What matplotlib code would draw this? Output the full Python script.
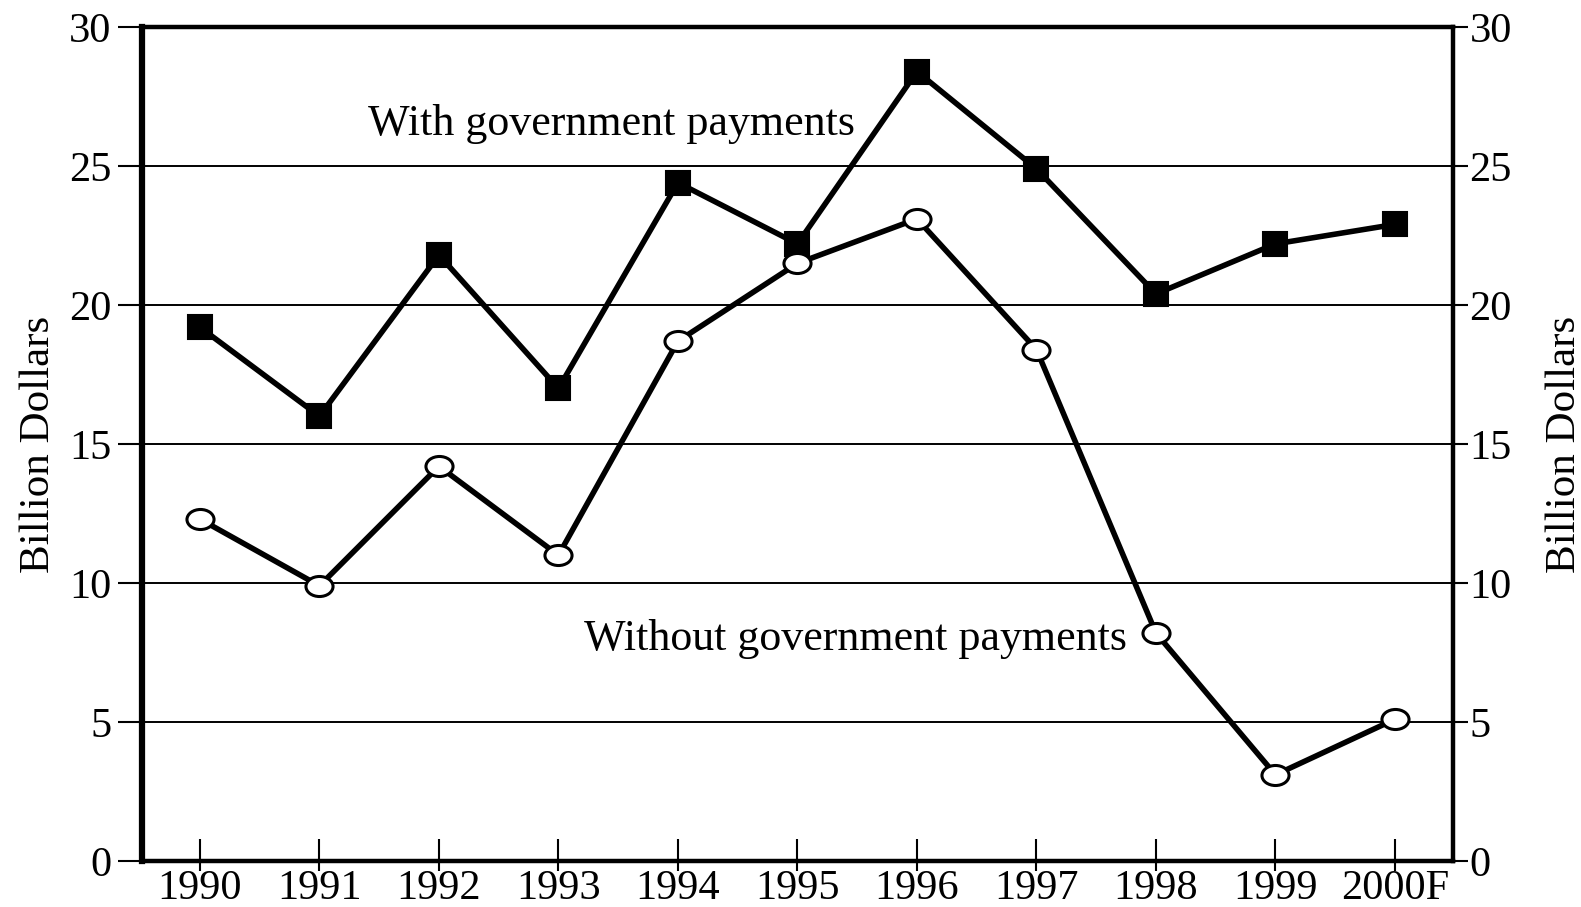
"""
Net farm income, with and without government payments, 1990-2000F.
Redraw of a scanned two-line chart with mirrored y axes.
"""

import numpy as np
import matplotlib
matplotlib.use("Agg")
import matplotlib.pyplot as plt
from matplotlib.path import Path
from matplotlib.ticker import FixedLocator

# ── Data ──────────────────────────────────────────────────────────────────────
years = ["1990", "1991", "1992", "1993", "1994", "1995",
         "1996", "1997", "1998", "1999", "2000F"]
with_payments = [19.2, 16.0, 21.8, 17.0, 24.4, 22.2, 28.4, 24.9, 20.4, 22.2, 22.9]
without_payments = [12.3, 9.9, 14.2, 11.0, 18.7, 21.5, 23.1, 18.4, 8.2, 3.1, 5.1]
y_ticks = [0, 5, 10, 15, 20, 25, 30]
y_label = "Billion Dollars"

plt.rcParams["font.family"] = ["Liberation Serif", "DejaVu Serif"]

# squashed open circle, as in the scan
ellipse = Path.unit_circle()
ellipse = Path(ellipse.vertices * np.array([1.0, 0.74]), ellipse.codes)

fig = plt.figure(figsize=(15.81, 9.07), dpi=100)
ax = fig.add_axes([0.0898, 0.0507, 0.8292, 0.9195])
x = np.arange(len(years))

# ── Lines ─────────────────────────────────────────────────────────────────────
ax.plot(x, with_payments, color="black", lw=4, marker="s", ms=17.5,
        mfc="black", mec="black", mew=1.5, zorder=3)
ax.plot(x, without_payments, color="black", lw=4, marker=ellipse, ms=19.5,
        mfc="white", mec="black", mew=2.2, zorder=4)

ax.text(1.41, 26.5, "With government payments", fontsize=31.7,
        ha="left", va="center")
ax.text(3.21, 8.0, "Without government payments", fontsize=31.7,
        ha="left", va="center")

# ── Axes ──────────────────────────────────────────────────────────────────────
ax.set_xlim(-0.485, 10.485)
ax.set_ylim(0, 30)
ax.set_xticks(x)
ax.set_xticklabels(years)
ax.set_yticks(y_ticks)
ax.grid(True, axis="y", color="black", lw=1.4)
ax.set_axisbelow(True)

ax.tick_params(axis="x", direction="in", length=16, width=1.5,
               labelsize=30.5, pad=6)
# short stub of the year ticks below the axis line
ax.xaxis.remove_overlapping_locs = False
ax.xaxis.set_minor_locator(FixedLocator(x))
ax.tick_params(axis="x", which="minor", direction="out", length=7, width=1.5)
ax.tick_params(axis="y", direction="out", length=17, width=1.5,
               labelsize=30.5, pad=5)
ax.set_ylabel(y_label, fontsize=31, labelpad=8)

ax.spines["left"].set_linewidth(4.5)
for side in ["top", "bottom", "right"]:
    ax.spines[side].set_linewidth(3.2)

ax2 = ax.twinx()
ax2.set_ylim(0, 30)
ax2.set_yticks(y_ticks)
ax2.tick_params(axis="y", direction="out", length=11, width=1.5,
                labelsize=30.5, pad=1)
ax2.set_ylabel(y_label, fontsize=31, labelpad=24)
for side in ax2.spines:
    ax2.spines[side].set_visible(False)

fig.savefig("out.png", dpi=100)
